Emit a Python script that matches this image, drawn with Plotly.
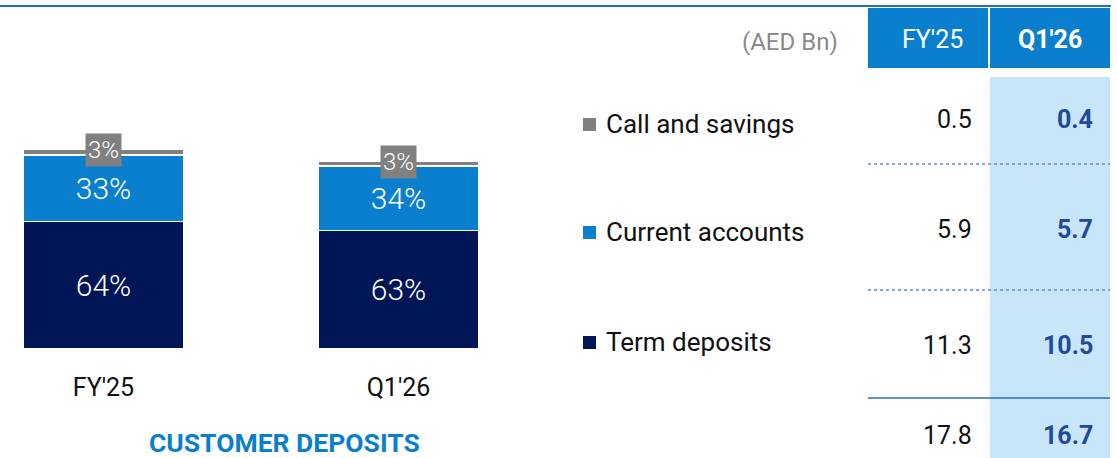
import plotly.graph_objects as go

# ---------------- data ----------------
periods = ["FY'25", "Q1'26"]
segments = ["Term deposits", "Current accounts", "Call and savings"]
term_deposits = [11.3, 10.5]
current_accounts = [5.9, 5.7]
call_savings = [0.5, 0.4]
totals = [17.8, 16.7]
pct_term = ["64%", "63%"]
pct_current = ["33%", "34%"]
pct_call = ["3%", "3%"]
unit_label = "(AED Bn)"
title_text = "CUSTOMER DEPOSITS"

# ---------------- style ----------------
W, H = 1117, 458
C_TERM = "#001657"
C_CURR = "#0a7fce"
C_CALL = "#808080"
C_LIGHT = "#c8e5f9"
C_LINE = "#2a6ebb"
C_VAL2 = "#1f4a99"
FONT = "Roboto, 'DejaVu Sans', sans-serif"


def px(x):
    return x / W


def py(y):
    return 1 - y / H


base_px = 349.0
unit_px = 201.0 / 17.8
slot_px = 295.0
center0 = 103.5
bar_px = 161.0

fig = go.Figure()
series = [
    (term_deposits, pct_term, C_TERM),
    (current_accounts, pct_current, C_CURR),
    (call_savings, [""] * len(periods), C_CALL),
]
for name, (vals, labels, col) in zip(segments, series):
    fig.add_trace(go.Bar(
        x=periods, y=vals, name=name, text=labels,
        textposition="inside", insidetextanchor="middle", textangle=0,
        textfont=dict(family=FONT, size=30, color="white", weight=300),
        marker=dict(color=col, line=dict(color="white", width=1.5)),
        hoverinfo="skip", showlegend=False,
    ))

annotations = []
shapes = []


def note(x, y, text, size, color, xanchor="center", weight="normal", **kw):
    annotations.append(dict(
        x=x, y=y, xref="paper", yref="paper", text=text, showarrow=False,
        xanchor=xanchor, yanchor="middle",
        font=dict(family=FONT, size=size, color=color, weight=weight), **kw))


# gray call & savings labels
for p, t, c, s, lab in zip(periods, term_deposits, current_accounts, call_savings, pct_call):
    annotations.append(dict(
        x=p, y=t + c + s / 2, xref="x", yref="y", text=lab, showarrow=False,
        xanchor="center", yanchor="middle",
        font=dict(family=FONT, size=24, color="white", weight=300),
        bgcolor=C_CALL, borderpad=2, yshift=2,
    ))

# title
note(px(284), py(442), title_text, 26.5, C_CURR, weight="bold")

# top line
shapes.append(dict(type="line", xref="paper", yref="paper",
                   x0=0, x1=px(1111), y0=py(6), y1=py(6),
                   line=dict(color=C_LINE, width=2)))

# table header cells and highlighted column
shapes.append(dict(type="rect", xref="paper", yref="paper", layer="below",
                   x0=px(868), x1=px(988), y0=py(68), y1=py(8),
                   fillcolor=C_CURR, line=dict(width=0)))
shapes.append(dict(type="rect", xref="paper", yref="paper", layer="below",
                   x0=px(990), x1=px(1110), y0=py(68), y1=py(8),
                   fillcolor=C_CURR, line=dict(width=0)))
shapes.append(dict(type="rect", xref="paper", yref="paper", layer="below",
                   x0=px(990), x1=px(1110), y0=py(458), y1=py(77),
                   fillcolor=C_LIGHT, line=dict(width=0)))

# header texts
note(px(840), py(42), unit_label, 24, "#8a8a8a", xanchor="right")
note(px(932), py(40), periods[0], 25, "white")
note(px(1050), py(40), periods[1], 25, "white", weight="bold")

# row separators
for yy in (164, 290):
    shapes.append(dict(type="line", xref="paper", yref="paper",
                       x0=px(868), x1=px(1110), y0=py(yy), y1=py(yy),
                       line=dict(color="#5b8fd0", width=1.5, dash="dot")))
shapes.append(dict(type="line", xref="paper", yref="paper",
                   x0=px(868), x1=px(1110), y0=py(398), y1=py(398),
                   line=dict(color=C_LINE, width=1.5)))

# legend rows (top to bottom) and values
legend_rows = [
    (segments[2], C_CALL, call_savings, 124, 120),
    (segments[1], C_CURR, current_accounts, 232, 230),
    (segments[0], C_TERM, term_deposits, 342, 345),
]
for name, col, vals, ly, vy in legend_rows:
    shapes.append(dict(type="rect", xref="paper", yref="paper",
                       x0=px(583), x1=px(596), y0=py(ly + 7), y1=py(ly - 6),
                       fillcolor=col, line=dict(width=0)))
    note(px(604), py(ly), name, 26, "#111111", xanchor="left")
    note(px(974), py(vy), f"{vals[0]:.1f}", 25, "#111111", xanchor="right")
    note(px(1095), py(vy), f"{vals[1]:.1f}", 25, C_VAL2, xanchor="right", weight="bold")

# totals row
note(px(974), py(435), f"{totals[0]:.1f}", 25, "#111111", xanchor="right")
note(px(1095), py(435), f"{totals[1]:.1f}", 25, C_VAL2, xanchor="right", weight="bold")

x_dom_px = 558.5
fig.update_layout(
    width=W, height=H,
    margin=dict(l=0, r=0, t=0, b=0),
    paper_bgcolor="white", plot_bgcolor="rgba(0,0,0,0)",
    barmode="stack", bargap=1 - bar_px / slot_px,
    xaxis=dict(domain=[0, px(x_dom_px)],
               range=[-center0 / slot_px, (x_dom_px - center0) / slot_px],
               showgrid=False, zeroline=False, showline=False, ticks="",
               tickfont=dict(family=FONT, size=25, color="#111111"),
               ticklabelstandoff=21, fixedrange=True),
    yaxis=dict(domain=[py(base_px), 1], range=[0, base_px / unit_px],
               visible=False, fixedrange=True),
    annotations=annotations, shapes=shapes,
    showlegend=False,
)

fig.write_html("out.html", config={"displayModeBar": False},
               post_script="document.body.style.margin='0';document.body.style.overflow='hidden';")
